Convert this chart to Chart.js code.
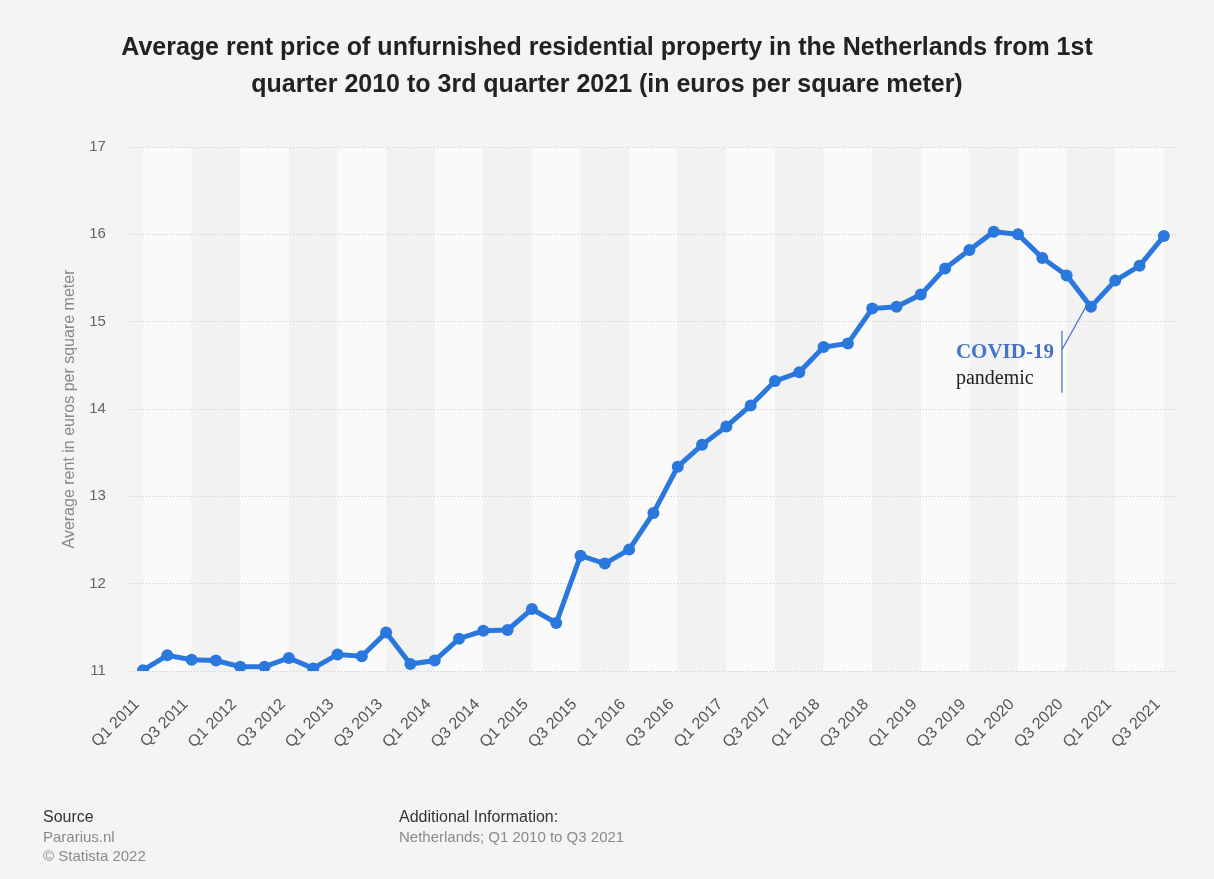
<!DOCTYPE html>
<html>
<head>
<meta charset="utf-8">
<script src="https://cdn.jsdelivr.net/npm/chart.js@4"></script>
<style>
  html, body { margin: 0; padding: 0; background: #f4f4f4; }
  #wrap { position: relative; width: 1214px; height: 879px; }
  #chartArea { position: absolute; left: 0; top: 0; width: 1214px; height: 879px; }
  .foot { position: absolute; font-family: "Liberation Sans", Arial, sans-serif; font-size: 15px; line-height: 19.5px; color: #8a8a8a; }
  .foot b { font-weight: normal; color: #333; font-size: 16px; }
</style>
</head>
<body>
<div id="wrap">
  <div id="chartArea"><canvas id="chartArea-canvas"></canvas></div>
  <div class="foot" style="left:43px; top:807px;"><b>Source</b><br>Pararius.nl<br>© Statista 2022</div>
  <div class="foot" style="left:399px; top:807px;"><b>Additional Information:</b><br>Netherlands; Q1 2010 to Q3 2021</div>
</div>
<script>
    // quarters Q1 2011 -> Q3 2021
    const quarters = [
        "Q1 2011","Q2 2011","Q3 2011","Q4 2011",
        "Q1 2012","Q2 2012","Q3 2012","Q4 2012",
        "Q1 2013","Q2 2013","Q3 2013","Q4 2013",
        "Q1 2014","Q2 2014","Q3 2014","Q4 2014",
        "Q1 2015","Q2 2015","Q3 2015","Q4 2015",
        "Q1 2016","Q2 2016","Q3 2016","Q4 2016",
        "Q1 2017","Q2 2017","Q3 2017","Q4 2017",
        "Q1 2018","Q2 2018","Q3 2018","Q4 2018",
        "Q1 2019","Q2 2019","Q3 2019","Q4 2019",
        "Q1 2020","Q2 2020","Q3 2020","Q4 2020",
        "Q1 2021","Q2 2021","Q3 2021"
    ];

    const rentValues = [
        11.01, 11.18, 11.13, 11.12,
        11.05, 11.05, 11.15, 11.03,
        11.19, 11.17, 11.44, 11.08,
        11.12, 11.37, 11.46, 11.47,
        11.71, 11.55, 12.32, 12.23,
        12.39, 12.81, 13.34, 13.59,
        13.80, 14.04, 14.32, 14.42,
        14.71, 14.75, 15.15, 15.17,
        15.31, 15.61, 15.82, 16.03,
        16.00, 15.73, 15.53, 15.17,
        15.47, 15.64, 15.98
    ];

    const yTicks = [11, 12, 13, 14, 15, 16, 17];

    const noteIndex = 39; // Q4 2020
    const noteLines = ["COVID-19", "pandemic"];

    const lineColor = "#2a77de";
    const sans = "'Liberation Sans', Arial, sans-serif";

    // vertical bands, two quarters wide, from the first point
    const bandsPlugin = {
        id: "bands",
        beforeDraw(chart) {
            const ctx = chart.ctx, x = chart.scales.x, area = chart.chartArea;
            ctx.save();
            for (let i = 0; i < quarters.length - 1; i += 2) {
                const x0 = x.getPixelForValue(i);
                const x1 = x.getPixelForValue(Math.min(i + 2, quarters.length - 1));
                ctx.fillStyle = (i / 2) % 2 === 0 ? "#fafafa" : "#f2f2f2";
                ctx.fillRect(x0, area.top, x1 - x0, area.bottom - area.top);
            }
            ctx.restore();
        }
    };

    // COVID-19 note with its leader line
    const notePlugin = {
        id: "note",
        afterDatasetsDraw(chart) {
            const ctx = chart.ctx;
            const px = chart.scales.x.getPixelForValue(noteIndex);
            const py = chart.scales.y.getPixelForValue(rentValues[noteIndex]);
            ctx.save();
            ctx.strokeStyle = "#3f6fc6";
            ctx.lineWidth = 1.2;
            ctx.beginPath();
            ctx.moveTo(px - 29, py + 24);
            ctx.lineTo(px - 29, py + 86);
            ctx.moveTo(px - 29, py + 43);
            ctx.lineTo(px - 4, py - 2);
            ctx.stroke();
            ctx.font = "bold 21px 'Liberation Serif', 'DejaVu Serif', serif";
            const left = px - 37 - ctx.measureText(noteLines[0]).width;
            ctx.textAlign = "left";
            ctx.fillStyle = "#4573c8";
            ctx.fillText(noteLines[0], left, py + 51);
            ctx.fillStyle = "#222";
            ctx.font = "20px 'Liberation Serif', 'DejaVu Serif', serif";
            ctx.fillText(noteLines[1], left, py + 77);
            ctx.restore();
        }
    };

    const canvas = document.getElementById("chartArea-canvas");
    const chartJs = new Chart(canvas, {
        type: "line",
        data: {
            labels: quarters,
            datasets: [
                {
                    label: "Average rent",
                    data: rentValues,
                    borderColor: lineColor,
                    backgroundColor: lineColor,
                    borderWidth: 5,
                    pointRadius: 6,
                    pointBorderWidth: 0,
                    tension: 0
                }
            ]
        },
        options: {
            responsive: true,
            maintainAspectRatio: false,
            animation: false,
            layout: { padding: { left: 38, right: 38, top: 0, bottom: 111 } },
            plugins: {
                legend: { display: false },
                tooltip: { enabled: false },
                title: {
                    display: true,
                    text: [
                        "Average rent price of unfurnished residential property in the Netherlands from 1st",
                        "quarter 2010 to 3rd quarter 2021 (in euros per square meter)"
                    ],
                    color: "#222",
                    font: { family: sans, size: 25, weight: "bold", lineHeight: 1.5 },
                    padding: { top: 29, bottom: 43 }
                }
            },
            scales: {
                x: {
                    offset: true,
                    grid: { display: false },
                    border: { display: false },
                    ticks: {
                        autoSkip: false,
                        maxRotation: 45,
                        minRotation: 45,
                        color: "#555",
                        padding: 16,
                        labelOffset: -6,
                        font: { family: sans, size: 16 },
                        callback: (v, i) => i % 2 === 0 ? quarters[i] : ""
                    }
                },
                y: {
                    min: yTicks[0],
                    max: yTicks[yTicks.length - 1],
                    afterBuildTicks: axis => { axis.ticks = yTicks.map(v => ({ value: v })); },
                    border: { display: false, dash: [1, 2] },
                    grid: { color: "#c8c8c8", lineWidth: 1, drawTicks: false },
                    ticks: {
                        color: "#666",
                        padding: 25,
                        font: { family: sans, size: 15 }
                    },
                    title: {
                        display: true,
                        text: "Average rent in euros per square meter",
                        color: "#888",
                        padding: { top: 22, bottom: -15 },
                        font: { family: sans, size: 16 }
                    }
                }
            }
        },
        plugins: [bandsPlugin, notePlugin]
    });
</script>
</body>
</html>
